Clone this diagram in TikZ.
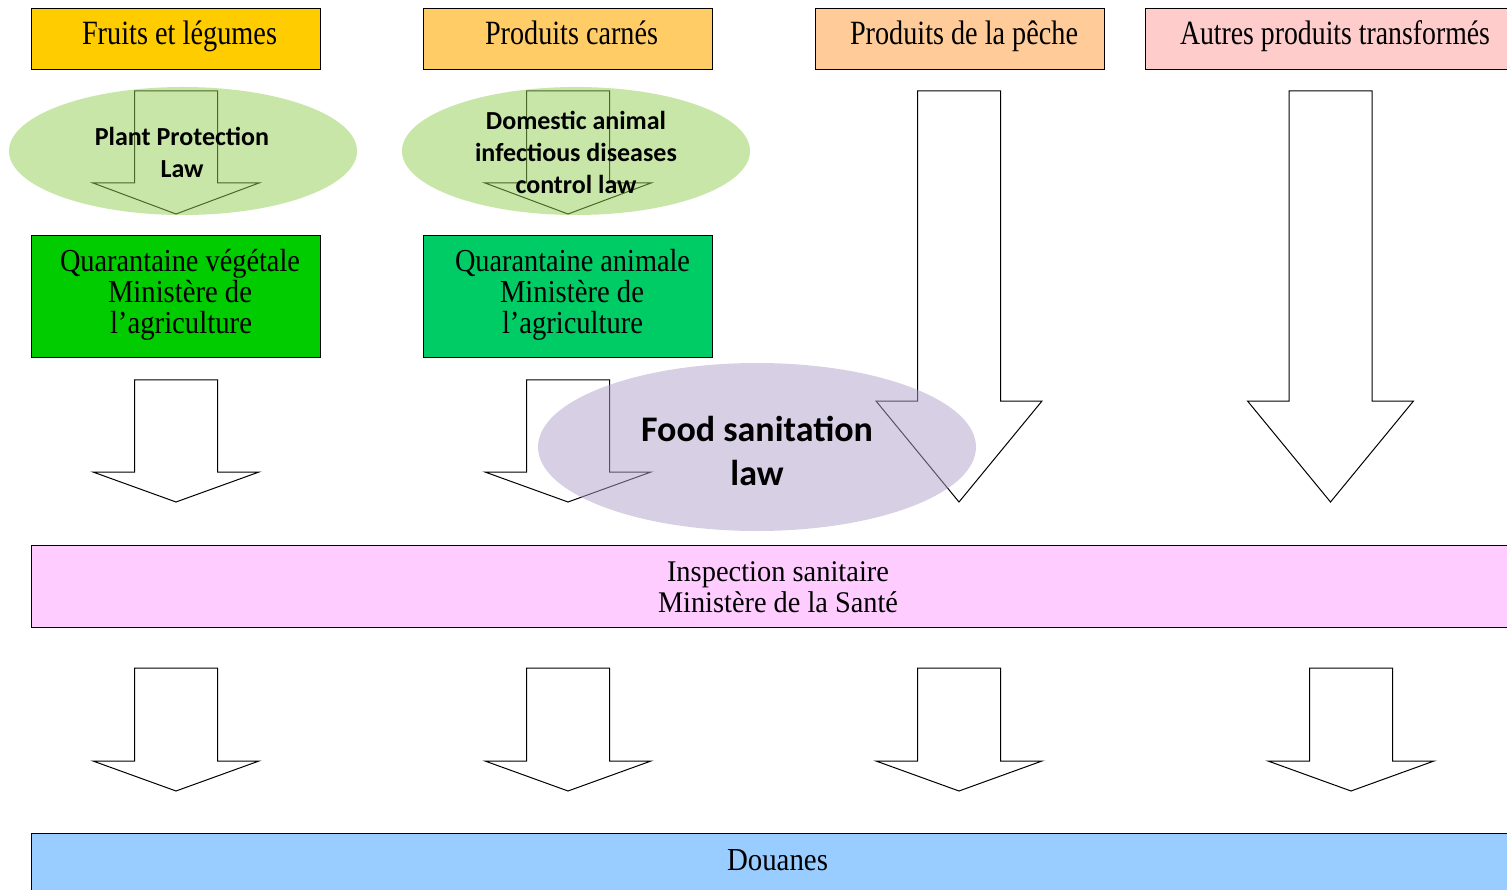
\documentclass[tikz,border=0pt]{standalone}
\usepackage{fontspec}
\setmainfont{Liberation Serif}
\newfontfamily\calfont{Carlito}
\usepackage{graphicx}
\newcommand\sqz[2]{\setbox0=\hbox{#2}\pgfmathsetmacro\sqf{#1/\the\wd0}\scalebox{\sqf}[1]{\box0}}
\definecolor{cFruit}{HTML}{FFCC00}
\definecolor{cCarne}{HTML}{FFCC66}
\definecolor{cPeche}{HTML}{FFCC99}
\definecolor{cAutre}{HTML}{FFCCCC}
\definecolor{cQv}{HTML}{00CC00}
\definecolor{cQa}{HTML}{00CC66}
\definecolor{cInsp}{HTML}{FFCCFF}
\definecolor{cDou}{HTML}{99CCFF}
\definecolor{cEllG}{HTML}{92CE52}
\definecolor{cEllP}{HTML}{B1A1C9}
\tikzset{
  box/.style={draw=black, line width=1pt},
  blockarrow/.style={draw=black, fill=white, line width=1pt, line join=miter},
  lawell/.style={fill opacity=0.5, draw=none},
  sertxt/.style={anchor=base, inner sep=0pt, font=\fontsize{#1}{#1}\selectfont},
  caltxt/.style={anchor=base, inner sep=0pt, font=\calfont\bfseries\fontsize{#1}{#1}\selectfont},
}
% cx, top, headY, tipY
\newcommand\barrow[4]{%
  \path[blockarrow] (#1-41.5,#2) -- (#1+41.5,#2) -- (#1+41.5,#3) -- (#1+83,#3) -- (#1,#4) -- (#1-83,#3) -- (#1-41.5,#3) -- cycle;}
\begin{document}
\begin{tikzpicture}[x=1pt,y=-1pt]
\useasboundingbox (0,0) rectangle (1507,890);
\clip (0,0) rectangle (1507,890);
\fill[white] (0,0) rectangle (1507,890);
% top boxes
\path[box, fill=cFruit] (31,9) rectangle (320,70);
\path[box, fill=cCarne] (423,9) rectangle (712,70);
\path[box, fill=cPeche] (815,9) rectangle (1104,70);
\path[box, fill=cAutre] (1145,9) rectangle (1520,70);
\node[sertxt=34] (t1) at (179.5,45) {\sqz{195}{Fruits et légumes}};
\node[sertxt=34] (t2) at (571.5,45) {\sqz{173}{Produits carnés}};
\node[sertxt=34] (t3) at (964,45) {\sqz{228}{Produits de la pêche}};
\node[sertxt=34] (t4) at (1335,45) {\sqz{310}{Autres produits transformés}};
% top arrows under green ellipses
\barrow{176}{91}{183}{214}
\barrow{568}{91}{183}{214}
\path[lawell, fill=cEllG] (183,151) ellipse [x radius=174, y radius=64];
\path[lawell, fill=cEllG] (576,151) ellipse [x radius=174, y radius=64];
\node[caltxt=26] (e1a) at (182,146) {Plant Protection};
\node[caltxt=26] (e1b) at (182,178) {Law};
\node[caltxt=26] (e2a) at (576,130) {Domestic animal};
\node[caltxt=26] (e2b) at (576,162) {infectious diseases};
\node[caltxt=26] (e2c) at (576,194) {control law};
% green boxes
\path[box, fill=cQv] (31,236) rectangle (320,358);
\path[box, fill=cQa] (423,236) rectangle (712,358);
\node[sertxt=32] (q1a) at (180,272) {\sqz{240}{Quarantaine végétale}};
\node[sertxt=32] (q1b) at (180,303) {\sqz{144}{Ministère de}};
\node[sertxt=32] (q1c) at (181,334) {\sqz{142}{l’agriculture}};
\node[sertxt=32] (q2a) at (572.5,272) {\sqz{235}{Quarantaine animale}};
\node[sertxt=32] (q2b) at (572,303) {\sqz{144}{Ministère de}};
\node[sertxt=32] (q2c) at (572.5,334) {\sqz{141}{l’agriculture}};
% middle arrows
\barrow{176}{380}{472}{502}
\barrow{568}{380}{472}{502}
\barrow{959}{91}{401}{502}
\barrow{1330.5}{91}{401}{502}
% food sanitation ellipse
\path[lawell, fill=cEllP] (757,447) ellipse [x radius=219, y radius=84];
\node[caltxt=36] (fa) at (757,441) {Food sanitation};
\node[caltxt=36] (fb) at (757,485) {law};
% inspection box
\path[box, fill=cInsp] (31,545) rectangle (1520,627);
\node[sertxt=30] (ia) at (778,581) {\sqz{222}{Inspection sanitaire}};
\node[sertxt=30] (ib) at (778,612) {\sqz{240}{Ministère de la Santé}};
% bottom arrows
\barrow{176}{668}{761}{791}
\barrow{568}{668}{761}{791}
\barrow{959}{668}{761}{791}
\barrow{1351}{668}{761}{791}
% douanes
\path[box, fill=cDou] (31,833) rectangle (1520,900);
\node[sertxt=32] (d) at (777.5,870) {\sqz{101}{Douanes}};
\end{tikzpicture}
\end{document}
